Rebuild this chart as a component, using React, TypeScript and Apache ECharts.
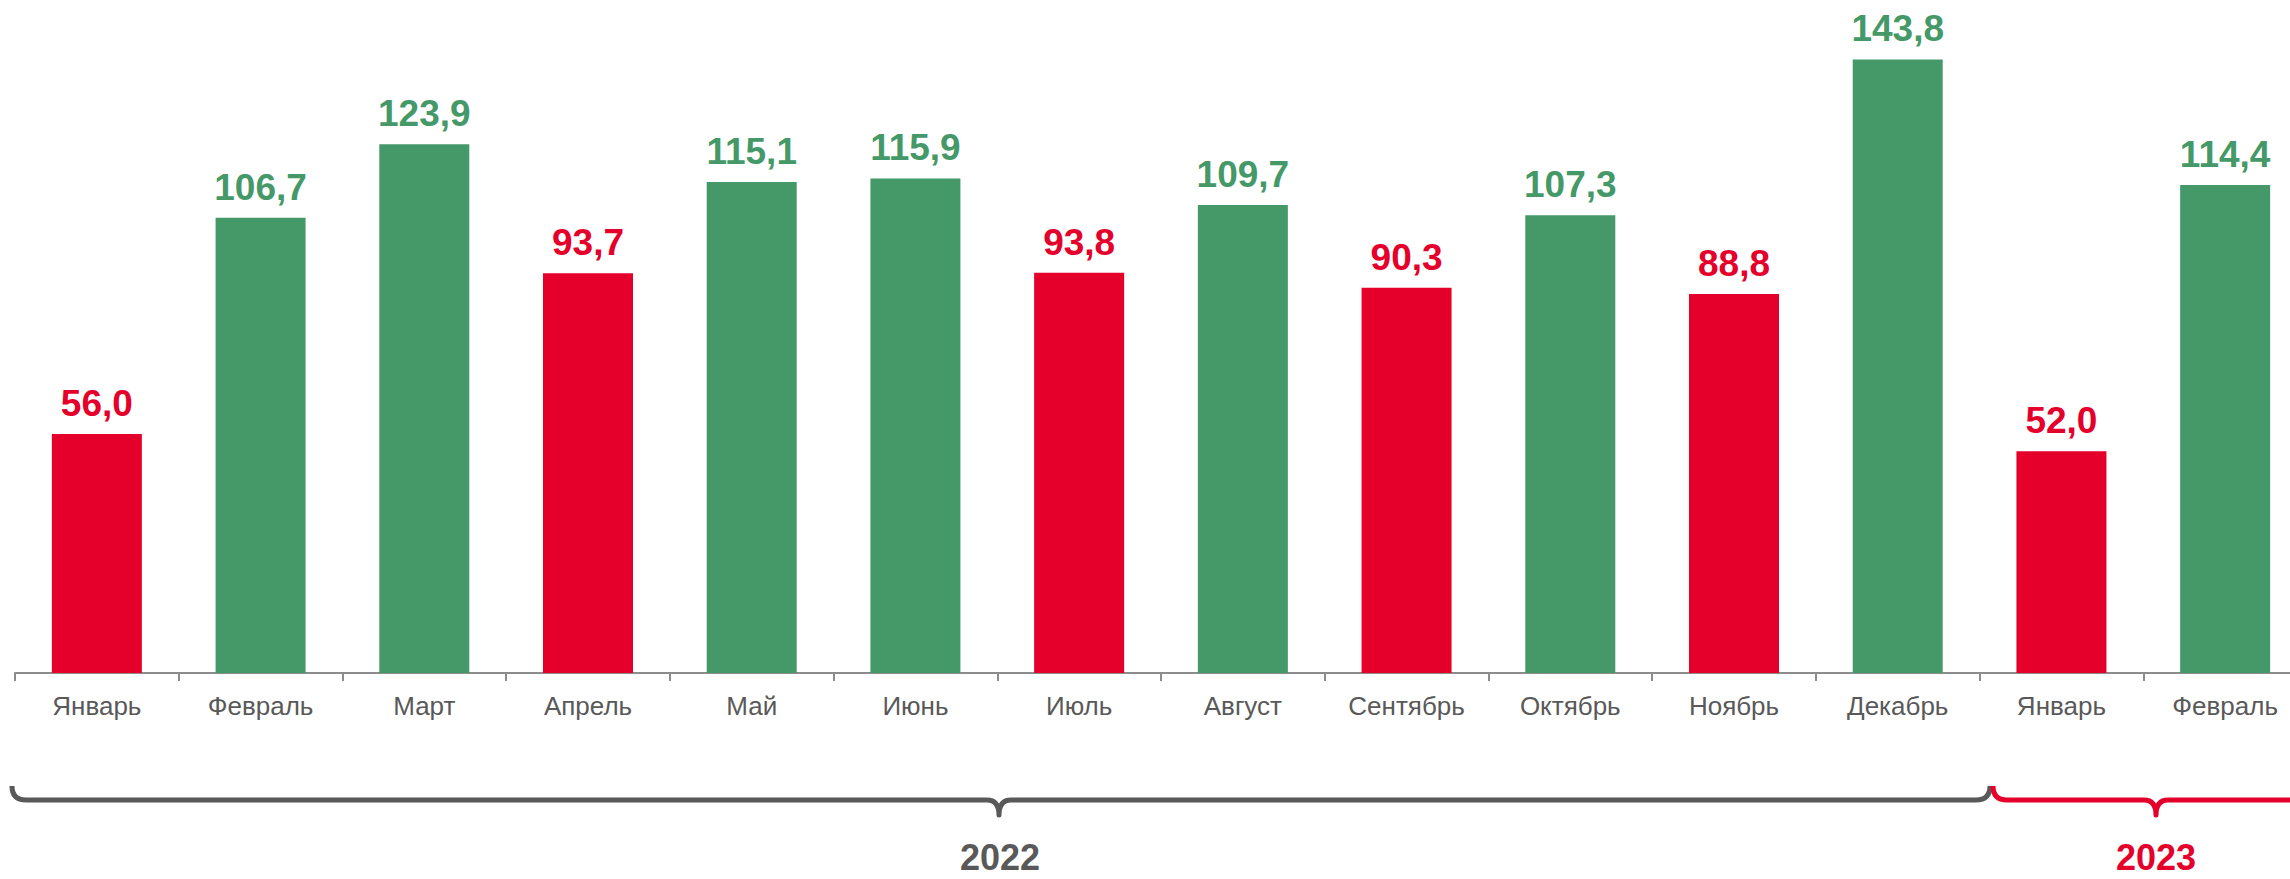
import React, { useEffect, useRef } from "react";
import * as echarts from "echarts";

const categories = [
  "Январь", "Февраль", "Март", "Апрель", "Май", "Июнь", "Июль",
  "Август", "Сентябрь", "Октябрь", "Ноябрь", "Декабрь", "Январь", "Февраль",
];
const values = [56.0, 106.7, 123.9, 93.7, 115.1, 115.9, 93.8, 109.7, 90.3, 107.3, 88.8, 143.8, 52.0, 114.4];
const yearLabels = ["2022", "2023"];

const GREEN = "#459968";
const RED = "#E4002B";
const GRAY = "#595959";
const FONT = "'Liberation Sans', Arial, sans-serif";

const grayBrace =
  "M 12 786 Q 12 800 26 800 L 987 800 Q 999 800 999 815 Q 999 800 1011 800 L 1976 800 Q 1990 800 1990 786";
const redBrace =
  "M 1993 786 Q 1993 800 2007 800 L 2144 800 Q 2156 800 2156 815 Q 2156 800 2168 800 L 2310 800";

echarts.graphic.registerShape("braceGray", echarts.graphic.extendPath(grayBrace, {}));
echarts.graphic.registerShape("braceRed", echarts.graphic.extendPath(redBrace, {}));

export default function App() {
  const ref = useRef<HTMLDivElement>(null);
  useEffect(() => {
    if (!ref.current) return;
    const chart = echarts.init(ref.current, undefined, { renderer: "svg" });
    chart.setOption({
      animation: false,
      backgroundColor: "#ffffff",
      grid: { left: 15, right: 13, top: 33, bottom: 206, containLabel: false },
      xAxis: {
        type: "category",
        data: categories,
        axisLine: { show: true, lineStyle: { color: "#8c8c8c", width: 2 } },
        axisTick: { show: true, length: 8, lineStyle: { color: "#8c8c8c", width: 2 } },
        axisLabel: { color: GRAY, fontSize: 26, fontFamily: FONT, margin: 20, interval: 0 },
      },
      yAxis: {
        type: "value",
        min: 0,
        max: 150,
        show: false,
        splitLine: { show: false },
      },
      series: [
        {
          type: "bar",
          barWidth: 90,
          data: values.map((v) => ({
            value: v,
            itemStyle: { color: v < 100 ? RED : GREEN },
            label: { color: v < 100 ? RED : GREEN },
          })),
          label: {
            show: true,
            position: "top",
            distance: 12,
            fontSize: 37,
            fontWeight: "bold",
            fontFamily: FONT,
            formatter: (p: any) => Number(p.value).toFixed(1).replace(".", ","),
          },
        },
      ],
      graphic: [
        {
          type: "braceGray",
          x: 0,
          y: 0,
          style: { stroke: GRAY, fill: "none", lineWidth: 5, lineJoin: "round" },
        },
        {
          type: "braceRed",
          x: 0,
          y: 0,
          style: { stroke: RED, fill: "none", lineWidth: 5, lineJoin: "round" },
        },
        {
          type: "text",
          x: 1000,
          y: 857,
          style: {
            text: yearLabels[0],
            fill: GRAY,
            font: `bold 36px ${FONT}`,
            lineHeight: 30,
            textAlign: "center",
            textVerticalAlign: "middle",
          },
        },
        {
          type: "text",
          x: 2156,
          y: 857,
          style: {
            text: yearLabels[1],
            fill: RED,
            font: `bold 36px ${FONT}`,
            lineHeight: 30,
            textAlign: "center",
            textVerticalAlign: "middle",
          },
        },
      ],
    });
    return () => chart.dispose();
  }, []);
  return (
    <div style={{ position: "absolute", left: 0, top: 0, width: 2290, height: 879, overflow: "hidden" }}>
      <div ref={ref} style={{ width: 2320, height: 879 }} />
    </div>
  );
}
